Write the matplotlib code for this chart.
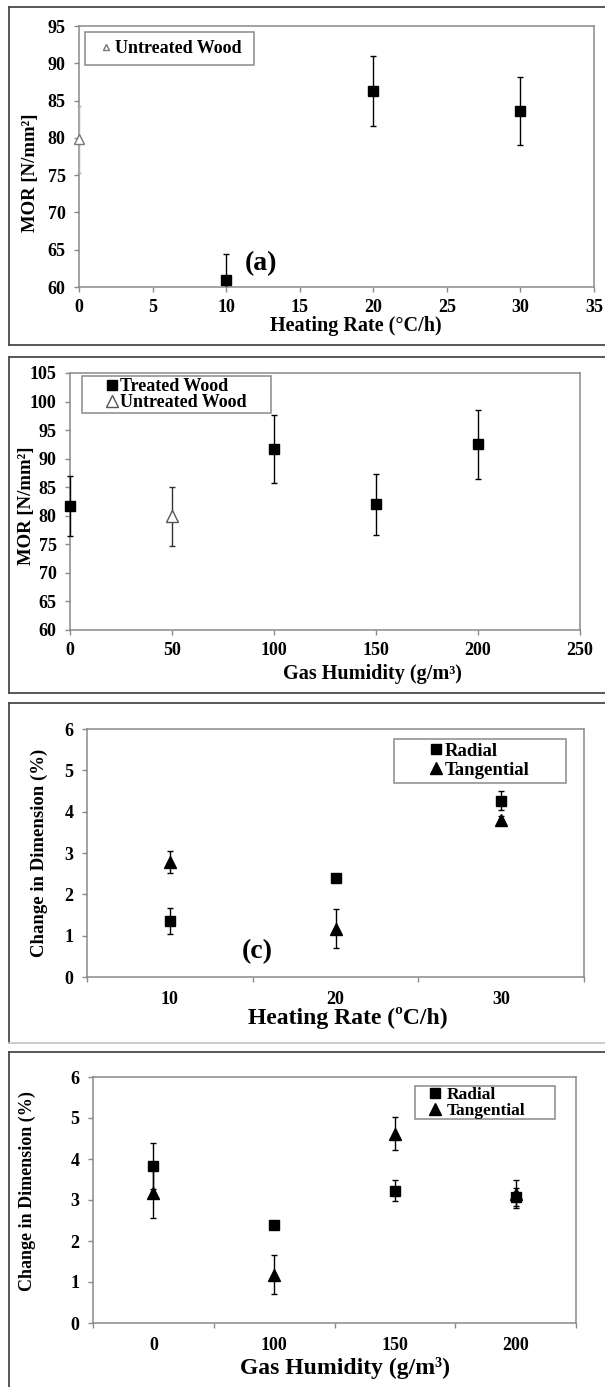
import numpy as np
import matplotlib
matplotlib.use("Agg")
import matplotlib.pyplot as plt
from matplotlib.lines import Line2D
from matplotlib.legend_handler import HandlerLine2D

# ---------------- data ----------------
# (a) MOR vs heating rate
a_x_treated = [10, 20, 30]
a_y_treated = [61.0, 86.3, 83.6]
a_err_treated = [3.4, 4.7, 4.6]
a_x_untreated = [0]
a_y_untreated = [79.8]
a_err_untreated = [4.5]
a_xticks = [0, 5, 10, 15, 20, 25, 30, 35]
a_yticks = [60, 65, 70, 75, 80, 85, 90, 95]

# (b) MOR vs gas humidity
b_x_treated = [0, 100, 150, 200]
b_y_treated = [81.7, 91.7, 82.0, 92.5]
b_err_treated = [5.3, 6.0, 5.3, 6.0]
b_x_untreated = [50]
b_y_untreated = [79.9]
b_err_untreated = [5.2]
b_xticks = [0, 50, 100, 150, 200, 250]
b_yticks = [60, 65, 70, 75, 80, 85, 90, 95, 100, 105]

# (c) change in dimension vs heating rate
c_categories = ["10", "20", "30"]
c_radial = [1.36, 2.39, 4.26]
c_radial_err = [0.32, 0.0, 0.23]
c_tangential = [2.79, 1.17, 3.80]
c_tangential_err = [0.27, 0.47, 0.10]

# (d) change in dimension vs gas humidity
d_categories = ["0", "100", "150", "200"]
d_radial = [3.83, 2.40, 3.23, 3.08]
d_radial_err = [0.55, 0.0, 0.25, 0.22]
d_tangential = [3.17, 1.18, 4.62, 3.15]
d_tangential_err = [0.60, 0.47, 0.40, 0.34]
cd_yticks = [0, 1, 2, 3, 4, 5, 6]

# ---------------- style ----------------
plt.rcParams["font.family"] = ["Liberation Serif", "DejaVu Serif"]
plt.rcParams["font.weight"] = "bold"

W, H = 605, 1387
fig = plt.figure(figsize=(W / 100, H / 100), dpi=100)

SPINE = "#8a8a8a"
FRAME = "#4a4a4a"
TICKSIZE = 13


def px_rect(l, r, t, b):
    return [l / W, 1 - b / H, (r - l) / W, (b - t) / H]


def fx(x):
    return x / W


def fy(y):
    return 1 - y / H


def frame(l, t, r, b, bottom_color=FRAME):
    fig.add_artist(Line2D([fx(l), fx(r)], [fy(t), fy(t)], color=FRAME, lw=1.3, transform=fig.transFigure))
    fig.add_artist(Line2D([fx(l), fx(l)], [fy(t), fy(b)], color=FRAME, lw=1.3, transform=fig.transFigure))
    if bottom_color is not None:
        fig.add_artist(Line2D([fx(l), fx(r)], [fy(b), fy(b)], color=bottom_color, lw=1.3, transform=fig.transFigure))


def style(ax):
    for s in ax.spines.values():
        s.set_color(SPINE)
        s.set_linewidth(1.1)
    ax.tick_params(axis="both", which="both", color=SPINE, width=1.0, length=3.6,
                   labelsize=TICKSIZE, direction="out")
    ax.tick_params(axis="y", pad=6)
    ax.tick_params(axis="x", pad=5)


class RightMarker(HandlerLine2D):
    def __init__(self, offset, **kw):
        super().__init__(**kw)
        self.offset = offset

    def get_xdata(self, legend, xdescent, ydescent, width, height, fontsize):
        x = -xdescent + width - self.offset
        return np.array([x, x]), np.array([x])


def box_legend(ax, handles, labels, l, t, r, b, fontsize, offset, handlelength,
               labelspacing, borderpad):
    leg = ax.legend(handles, labels, loc="upper left",
                    bbox_to_anchor=(fx(l), fy(b), fx(r) - fx(l), fy(t) - fy(b)),
                    bbox_transform=fig.transFigure, mode="expand",
                    frameon=True, fancybox=False, edgecolor=SPINE, framealpha=1,
                    borderaxespad=0, borderpad=borderpad, handlelength=handlelength,
                    handletextpad=0.0, labelspacing=labelspacing, numpoints=1,
                    prop={"size": fontsize, "weight": "bold"},
                    handler_map={Line2D: RightMarker(offset)})
    leg.get_frame().set_linewidth(1.1)
    return leg


def label(x, y, s, size, rot=0):
    fig.text(fx(x), fy(y), s, ha="center", va="center", rotation=rot,
             fontsize=size, fontweight="bold")


# ---------------- panel (a) ----------------
frame(9, 7, 640, 345)
ax1 = fig.add_axes(px_rect(79, 594, 26, 287))
ax1.errorbar(a_x_treated, a_y_treated, yerr=a_err_treated, fmt="s", color="black",
             ms=7.5, ecolor="black", elinewidth=1.0, capsize=2.3, capthick=1.0, zorder=3)
ax1.errorbar(a_x_untreated, a_y_untreated, yerr=a_err_untreated, fmt="^", mfc="white",
             mec="#777777", ms=7, ecolor="#aaaaaa", elinewidth=1.0, capsize=1.5,
             capthick=1.0, zorder=3, clip_on=False)
ax1.set_xlim(0, 35)
ax1.set_ylim(60, 95)
ax1.set_xticks(a_xticks)
ax1.set_yticks(a_yticks)
style(ax1)
h_unt_a = Line2D([], [], marker="^", ls="none", mfc="white", mec="#777777", ms=4.5)
box_legend(ax1, [h_unt_a], ["Untreated Wood"], 85, 32, 254, 64, 13, 6.5, 1.21, 0.3, 0.45)
label(31, 173, "MOR [N/mm²]", 13.5, 90)
label(356, 326, "Heating Rate (°C/h)", 14.5)
ax1.text(12.35, 63.2, "(a)", ha="center", va="center", fontsize=20, fontweight="bold")

# ---------------- panel (b) ----------------
frame(9, 357, 640, 693)
ax2 = fig.add_axes(px_rect(70, 580, 373, 630))
ax2.errorbar(b_x_treated, b_y_treated, yerr=b_err_treated, fmt="s", color="black",
             ms=7.5, ecolor="black", elinewidth=1.0, capsize=2.3, capthick=1.0,
             zorder=3, clip_on=False)
ax2.errorbar(b_x_untreated, b_y_untreated, yerr=b_err_untreated, fmt="^", mfc="white",
             mec="#555555", ms=8.5, ecolor="#333333", elinewidth=1.0, capsize=2.3,
             capthick=1.0, zorder=3)
ax2.set_xlim(0, 250)
ax2.set_ylim(60, 105)
ax2.set_xticks(b_xticks)
ax2.set_yticks(b_yticks)
style(ax2)
h_tr_b = Line2D([], [], marker="s", ls="none", color="black", ms=7)
h_unt_b = Line2D([], [], marker="^", ls="none", mfc="white", mec="#555555", ms=8)
box_legend(ax2, [h_tr_b, h_unt_b], ["Treated Wood", "Untreated Wood"],
           82, 376, 271, 411, 13, 6.1, 2.0, -0.05, 0.12)
label(26, 506, "MOR [N/mm²]", 13.5, 90)
label(372, 674, "Gas Humidity (g/m³)", 14.5)

# ---------------- panel (c) ----------------
frame(9, 703, 640, 1043, bottom_color="#c8c8c8")
ax3 = fig.add_axes(px_rect(87, 584, 729, 977))
cpos = np.arange(1, len(c_categories) + 1)
ax3.errorbar(cpos, c_radial, yerr=c_radial_err, fmt="s", color="black", ms=7.5,
             ecolor="black", elinewidth=1.0, capsize=2.3, capthick=1.0, zorder=3)
ax3.errorbar(cpos, c_tangential, yerr=c_tangential_err, fmt="^", color="black", ms=8.5,
             ecolor="black", elinewidth=1.0, capsize=2.3, capthick=1.0, zorder=3)
ax3.set_xlim(0.5, len(c_categories) + 0.5)
ax3.set_ylim(0, 6)
ax3.set_xticks(cpos)
ax3.set_xticklabels(c_categories)
ax3.set_xticks(np.arange(0.5, len(c_categories) + 1, 1.0), minor=True)
ax3.set_yticks(cd_yticks)
style(ax3)
ax3.tick_params(axis="x", which="major", length=0, pad=10)
h_rad = Line2D([], [], marker="s", ls="none", color="black", ms=7.5)
h_tan = Line2D([], [], marker="^", ls="none", color="black", ms=8)
box_legend(ax3, [h_rad, h_tan], ["Radial", "Tangential"],
           394, 739, 566, 780, 13.5, 6.5, 2.52, 0.1, 0.2)
label(39, 853, "Change in Dimension (%)", 13.5, 90)
label(348, 1018, "Heating Rate (ºC/h)", 17)
ax3.text(1.53, 0.61, "(c)", ha="center", va="center", fontsize=20, fontweight="bold")

# ---------------- panel (d) ----------------
frame(9, 1052, 640, 1450, bottom_color=None)
ax4 = fig.add_axes(px_rect(93, 576, 1077, 1323))
dpos = np.arange(1, len(d_categories) + 1)
ax4.errorbar(dpos, d_radial, yerr=d_radial_err, fmt="s", color="black", ms=7.5,
             ecolor="black", elinewidth=1.0, capsize=2.3, capthick=1.0, zorder=3)
ax4.errorbar(dpos, d_tangential, yerr=d_tangential_err, fmt="^", color="black", ms=8.5,
             ecolor="black", elinewidth=1.0, capsize=2.3, capthick=1.0, zorder=2.9)
ax4.set_xlim(0.5, len(d_categories) + 0.5)
ax4.set_ylim(0, 6)
ax4.set_xticks(dpos)
ax4.set_xticklabels(d_categories)
ax4.set_xticks(np.arange(0.5, len(d_categories) + 1, 1.0), minor=True)
ax4.set_yticks(cd_yticks)
style(ax4)
ax4.tick_params(axis="x", which="major", length=0, pad=10)
box_legend(ax4, [h_rad, h_tan], ["Radial", "Tangential"],
           415, 1086, 555, 1119, 12.5, 8.0, 1.79, 0.0, 0.03)
label(27, 1191, "Change in Dimension (%)", 13, 90)
label(345, 1368, "Gas Humidity (g/m³)", 17)

fig.savefig("out.png", dpi=100)
